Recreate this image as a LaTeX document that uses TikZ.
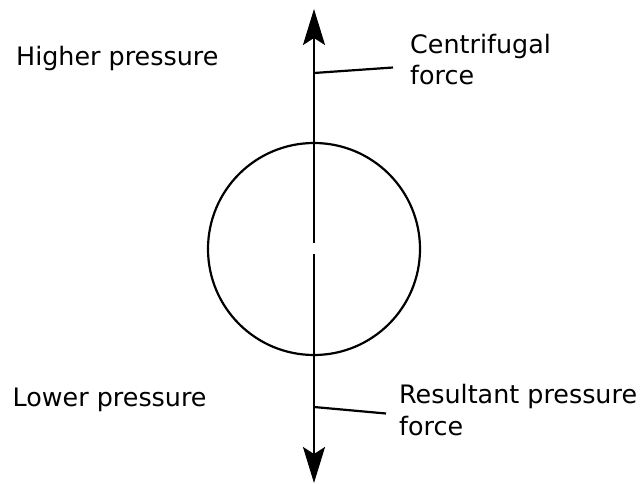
\documentclass[tikz,border=0pt]{standalone}
\usepackage{fontspec}
\setmainfont{DejaVu Sans}
\usetikzlibrary{arrows.meta}
\begin{document}
\begin{tikzpicture}[x=1pt,y=-1pt,
  lbl/.style={font=\fontsize{25.4}{32}\selectfont, inner sep=0pt, anchor=base west, align=left},
  ln/.style={line width=2.2pt, black},
  bigarrow/.style={ln, -{Stealth[length=36pt,width=22pt,inset=7pt]}}]
\useasboundingbox (0,0) rectangle (642,484);
\node[draw, line width=2.2pt, circle, minimum size=212pt, inner sep=0pt] (ball) at (314,249) {};
\coordinate (gapTop) at (314,243);
\coordinate (gapBot) at (314,254);
\coordinate (tipTop) at (314,9);
\coordinate (tipBot) at (314,483);
\draw[bigarrow] (gapTop) -- (tipTop);
\draw[bigarrow] (gapBot) -- (tipBot);
\coordinate (cfA) at (314,73);
\coordinate (cfB) at (393,67.5);
\coordinate (rpA) at (314,407);
\coordinate (rpB) at (386,413.5);
\draw[ln] (cfA) -- (cfB);
\draw[ln] (rpA) -- (rpB);
\node[lbl] (hp) at (16,66) {Higher pressure};
\node[lbl] (lp) at (12.5,406) {Lower pressure};
\node[lbl] (cf) at (410,85) {Centrifugal\\force};
\node[lbl] (rp) at (399,435) {Resultant pressure\\force};
\end{tikzpicture}
\end{document}
